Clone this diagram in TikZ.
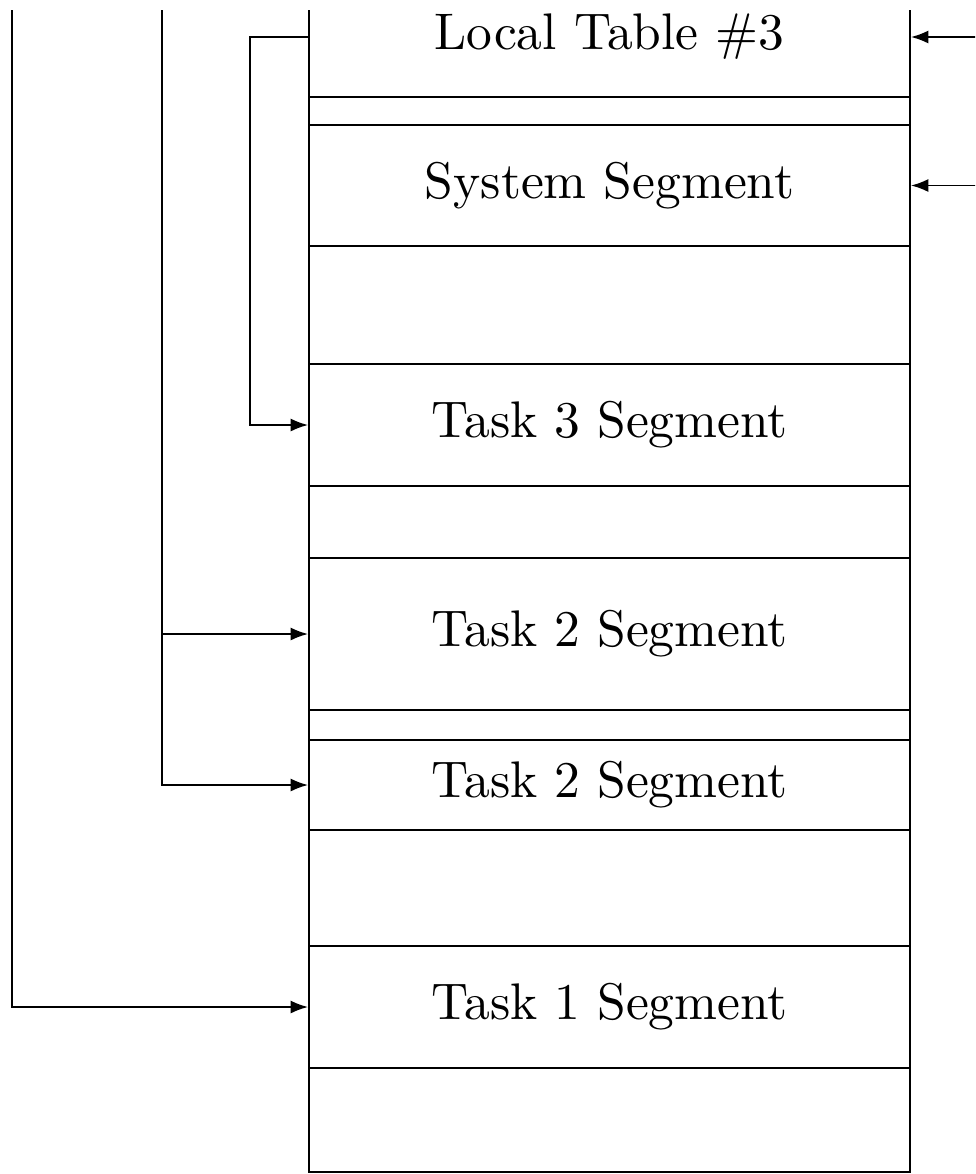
\documentclass[tikz,border=0pt]{standalone}
\usepackage{tikz}
\usetikzlibrary{arrows.meta, positioning}

\newcommand{\segtext}[1]{\scalebox{2.93}{#1}}

\begin{document}
\begin{tikzpicture}[
    x=0.02cm, y=-0.02cm,
    seg/.style={rectangle, draw, line width=1.1pt, minimum width=12.02cm, inner sep=0pt, text centered, font=\fontsize{10}{12}\selectfont},
    feed/.style={line width=1.1pt, -{Latex[length=10pt, width=7.5pt]}}
]
\useasboundingbox (0,0) rectangle (975,1174);
\clip (0,10) rectangle (975,1174);
% memory stack
\node[seg, minimum height=2.4cm] (lt) at (609.5,37) {\segtext{Local Table \#3}};
\node[seg, minimum height=0.56cm] (gap1) at (609.5,111) {};
\node[seg, minimum height=2.42cm] (sys) at (609.5,185.5) {\segtext{System Segment}};
\node[seg, minimum height=2.36cm] (free1) at (609.5,305) {};
\node[seg, minimum height=2.44cm] (t3) at (609.5,425) {\segtext{Task 3 Segment}};
\node[seg, minimum height=1.44cm] (free2) at (609.5,522) {};
\node[seg, minimum height=3.04cm] (t2a) at (609.5,634) {\segtext{Task 2 Segment}};
\node[seg, minimum height=0.6cm] (free3) at (609.5,725) {};
\node[seg, minimum height=1.8cm] (t2b) at (609.5,785) {\segtext{Task 2 Segment}};
\node[seg, minimum height=2.32cm] (free4) at (609.5,888) {};
\node[seg, minimum height=2.44cm] (t1) at (609.5,1007) {\segtext{Task 1 Segment}};
\node[seg, minimum height=2.08cm] (free5) at (609.5,1120) {};
% pointers from the left
\coordinate (top1) at (12,-30);
\coordinate (top2) at (162,-30);
\coordinate (j2) at (162,634);
\coordinate (ltout) at (309,37);
\draw[feed] (top1) |- (t1.west);
\draw[feed] (top2) |- (t2b.west);
\draw[feed] (j2) -- (t2a.west);
\draw[feed] (ltout) -- ++(-59,0) |- (t3.west);
% pointers from the right
\coordinate (inA) at (985,37);
\coordinate (inB) at (985,185.5);
\draw[feed] (inA) -- (lt.east);
\draw[feed] (inB) -- (sys.east);
\end{tikzpicture}
\end{document}
